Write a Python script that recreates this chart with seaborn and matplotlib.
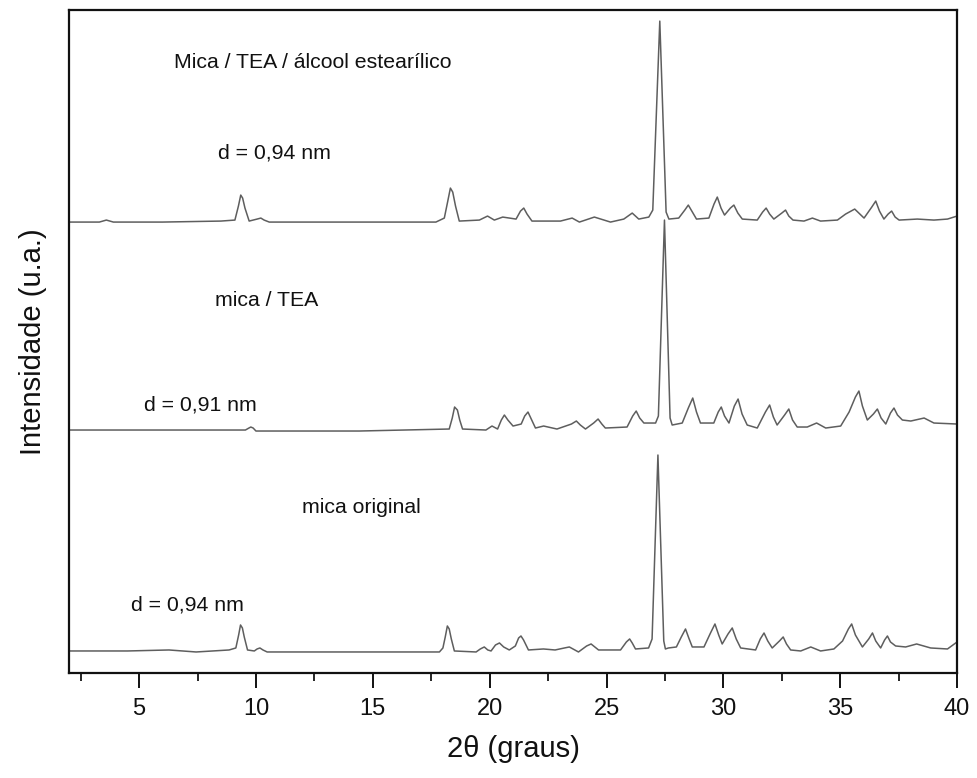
import numpy as np
import pandas as pd
import seaborn as sns
from matplotlib import pyplot as plt
from matplotlib.ticker import MultipleLocator

# 2theta (graus) and intensity above each trace's own baseline (u.a.)
x_original = [2.0, 4.5, 6.28, 7.44, 8.85, 9.14, 9.26, 9.34, 9.42, 9.5, 9.64, 9.93, 10.05,
              10.17, 10.3, 10.48, 14.0, 17.85, 18.0, 18.1, 18.19, 18.27, 18.36, 18.49, 19.42,
              19.6, 19.77, 19.92, 20.06, 20.25, 20.42, 20.6, 20.84, 21.1, 21.24, 21.34, 21.45,
              21.66, 22.3, 22.8, 23.2, 23.41, 23.8, 24.15, 24.34, 24.5, 24.66, 25.6, 25.85,
              25.99, 26.1, 26.24, 26.8, 26.95, 27.2, 27.45, 27.52, 27.65, 27.99, 28.2, 28.38,
              28.52, 28.67, 29.17, 29.45, 29.64, 29.8, 29.95, 30.2, 30.38, 30.55, 30.74, 31.38,
              31.58, 31.74, 31.9, 32.09, 32.4, 32.56, 32.7, 32.88, 33.31, 33.74, 34.16, 34.73,
              35.1, 35.35, 35.49, 35.65, 35.95, 36.22, 36.38, 36.52, 36.73, 36.9, 37.02, 37.15,
              37.37, 37.8, 38.27, 38.87, 39.59, 40.0]
i_original = [0, 0, 1, -1, 1, 3, 16, 26, 23, 14, 1, 0, 2,
              3, 1, -1, -1, -1, 3, 14, 25, 22, 12, 0, -1,
              2, 4, 1, 0, 6, 8, 4, 1, 5, 13, 15, 11,
              1, 2, 1, 3, 4, -1, 5, 7, 4, 1, 1, 9,
              12, 8, 2, 3, 12, 196, 10, 2, 3, 4, 14, 22,
              13, 4, 4, 18, 27, 16, 7, 17, 23, 12, 3, 1,
              12, 18, 10, 3, 10, 14, 7, 1, 0, 4, 0, 2,
              10, 22, 27, 16, 4, 12, 18, 10, 3, 11, 15, 9,
              5, 4, 7, 3, 2, 9]

x_tea = [2.0, 5.0, 8.5, 9.55, 9.7, 9.78, 9.88, 10.0, 14.42, 18.27, 18.4, 18.5, 18.62,
         18.72, 18.84, 19.84, 20.1, 20.34, 20.5, 20.63, 20.78, 21.0, 21.35, 21.5, 21.64,
         21.78, 21.96, 22.31, 22.88, 23.5, 23.71, 23.88, 24.1, 24.45, 24.64, 24.8, 24.95,
         25.88, 26.12, 26.27, 26.42, 26.6, 27.1, 27.22, 27.48, 27.72, 27.81, 28.24, 28.5,
         28.69, 28.85, 29.02, 29.59, 29.78, 29.91, 30.05, 30.24, 30.47, 30.63, 30.8, 31.02,
         31.45, 31.8, 31.98, 32.14, 32.3, 32.62, 32.8, 32.96, 33.16, 33.59, 33.99, 34.38,
         35.02, 35.38, 35.65, 35.8, 35.95, 36.16, 36.42, 36.59, 36.75, 36.95, 37.15, 37.3,
         37.45, 37.66, 38.02, 38.59, 39.01, 40.0]
i_tea = [0, 0, 0, 0, 2, 3, 2, -1, -1, 1, 12, 23, 20,
         10, 1, 0, 4, 1, 10, 15, 10, 4, 6, 14, 18,
         11, 2, 4, 1, 6, 9, 5, 1, 7, 11, 6, 2,
         3, 14, 19, 12, 7, 7, 14, 210, 12, 5, 7, 22,
         32, 18, 7, 7, 18, 23, 14, 7, 24, 31, 16, 5,
         2, 18, 25, 13, 5, 15, 21, 10, 3, 3, 7, 2,
         4, 18, 33, 39, 24, 10, 16, 21, 12, 6, 17, 22,
         15, 10, 9, 12, 7, 6]

x_alcool = [2.0, 3.3, 3.6, 3.9, 6.0, 8.5, 9.1, 9.25, 9.35, 9.43, 9.53, 9.71, 10.05, 10.21,
            10.35, 10.57, 17.7, 18.06, 18.2, 18.32, 18.42, 18.54, 18.7, 19.56, 19.91, 20.2,
            20.56, 21.13, 21.32, 21.46, 21.6, 21.81, 23.03, 23.53, 23.84, 24.48, 25.17, 25.74,
            26.1, 26.38, 26.81, 26.98, 27.28, 27.55, 27.67, 28.09, 28.35, 28.5, 28.65, 28.85,
            29.38, 29.6, 29.74, 29.9, 30.05, 30.3, 30.45, 30.62, 30.81, 31.45, 31.68, 31.83,
            31.98, 32.16, 32.5, 32.66, 32.8, 32.98, 33.45, 33.81, 34.16, 34.88, 35.23, 35.62,
            36.02, 36.35, 36.52, 36.68, 36.87, 37.05, 37.2, 37.35, 37.52, 38.3, 39.01, 39.59,
            40.0]
i_alcool = [0, 0, 2, 0, 0, 1, 2, 16, 27, 24, 14, 1, 3, 4,
            2, 0, 0, 4, 20, 34, 30, 16, 1, 2, 6, 2,
            5, 3, 11, 14, 8, 1, 1, 4, 0, 5, 0, 3,
            9, 3, 5, 12, 201, 10, 3, 4, 12, 17, 11, 3,
            4, 18, 25, 14, 7, 14, 17, 9, 3, 2, 10, 14,
            8, 3, 9, 12, 6, 2, 1, 4, 1, 2, 8, 13,
            4, 15, 21, 11, 3, 8, 11, 5, 2, 3, 2, 3,
            6]

# vertical offset used to stack the patterns
offsets = [22, 243, 451]

labels = ["Mica / TEA / álcool estearílico", "d = 0,94 nm",
          "mica / TEA", "d = 0,91 nm",
          "mica original", "d = 0,94 nm"]
label_x = [6.5, 8.38, 8.25, 5.2, 11.98, 4.66]
label_y = [611, 520, 373, 268, 166, 68]

sns.set_style("ticks")
plt.rcParams["font.family"] = ["Liberation Sans", "DejaVu Sans"]

fig = plt.figure(figsize=(9.77, 7.78), dpi=100)
ax = fig.add_axes([0.0706, 0.135, 0.909, 0.852])

traces = [(x_original, i_original), (x_tea, i_tea), (x_alcool, i_alcool)]
for (xs, ys), off in zip(traces, offsets):
    df = pd.DataFrame({"2theta": xs, "intensidade": np.array(ys) + off})
    sns.lineplot(data=df, x="2theta", y="intensidade", ax=ax, color="#5e5e5e",
                 linewidth=1.1, estimator=None, sort=False,
                 solid_joinstyle="round")

for txt, tx, ty in zip(labels, label_x, label_y):
    ax.text(tx, ty, txt, fontsize=15.3, ha="left", va="center", color="#111111")

ax.set_xlim(2, 40)
ax.set_ylim(0, 663)
ax.xaxis.set_major_locator(MultipleLocator(5))
ax.xaxis.set_minor_locator(MultipleLocator(2.5))
ax.set_yticks([])
ax.tick_params(axis="x", which="major", direction="out", length=11, width=1.4,
               labelsize=17, pad=7, colors="#111111")
ax.tick_params(axis="x", which="minor", direction="out", length=6, width=1.4)
for sp in ax.spines.values():
    sp.set_visible(True)
    sp.set_linewidth(1.6)
    sp.set_color("#111111")

ax.set_xlabel("2θ (graus)", fontsize=21, labelpad=11, color="#111111")
ax.set_ylabel("Intensidade (u.a.)", fontsize=21, labelpad=16, color="#111111")

fig.savefig("out.png", dpi=100)
